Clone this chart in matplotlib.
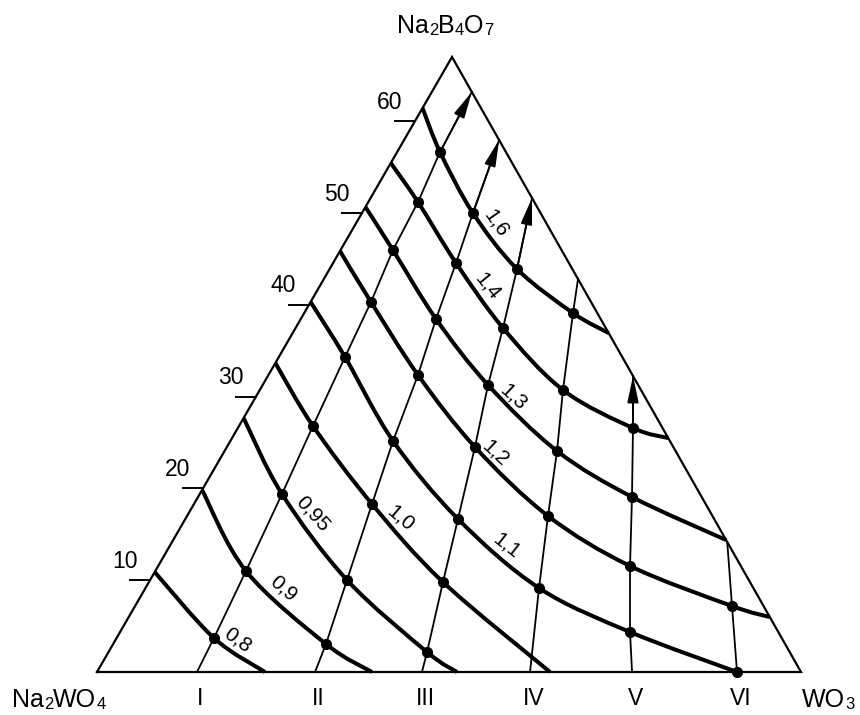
import matplotlib
matplotlib.use("Agg")
import matplotlib.pyplot as plt
import numpy as np
from matplotlib.path import Path
from matplotlib.patches import PathPatch, FancyArrowPatch

plt.rcParams['font.family'] = ['Liberation Sans', 'DejaVu Sans']

# Na2B4O7 (%) at the top corner of the drawn triangle (left scale)
B_TOP = 67.0
# shape of the triangle (top corner, base length = 1)
TOP_X = 355 / 704
TOP_Y = 615 / 704

nan = np.nan

# left scale
tick_vals = [10, 20, 30, 40, 50, 60]

# sections I..VI : start on the Na2WO4-WO3 side (WO3, %) and end on the right side (Na2B4O7, %)
sec_names = ['I', 'II', 'III', 'IV', 'V', 'VI']
sec_base_w = [14.20, 30.97, 46.16, 61.51, 76.00, 90.91]
sec_end_b = [63.19, 57.96, 51.64, 42.81, 32.25, 14.16]
sec_arrow = [True, True, True, False, True, False]

# isolines
iso_labels = ['0,8', '0,9', '0,95', '1,0', '1,1', '1,2', '1,3', '1,4', '1,6']
iso_start_b = [10.89, 19.83, 27.67, 33.66, 40.31, 45.86, 50.66, 55.45, 61.44]
iso_end_w = [23.86, 39.06, 51.14, 64.35, nan, 91.06, 78.54, 61.95, 44.88]
iso_end_b = [0.0, 0.0, 0.0, 0.0, nan, 5.99, 14.38, 25.49, 36.93]

# nodes: isoline (rows) x section (cols)
node_b = [
    [3.70, nan, nan, nan, nan, nan],
    [11.00, 3.05, nan, nan, nan, nan],
    [19.39, 10.02, 2.18, nan, nan, nan],
    [26.80, 18.30, 9.80, nan, nan, nan],
    [34.32, 25.17, 16.67, 9.15, 4.36, 0.0],
    [40.31, 32.36, 24.51, 17.00, 11.55, 7.19],
    [45.97, 38.46, 31.27, 24.08, 19.07, nan],
    [51.20, 44.56, 37.48, 30.72, 26.58, nan],
    [56.65, 50.00, 43.90, 39.11, nan, nan],
]
node_w = [
    [13.83, nan, nan, nan, nan, nan],
    [12.88, 30.23, nan, nan, nan, nan],
    [11.68, 27.97, 45.24, nan, nan, nan],
    [10.51, 25.29, 41.77, nan, nan, nan],
    [9.40, 23.11, 38.73, 55.90, 72.43, 90.91],
    [8.58, 21.24, 35.24, 51.27, 67.02, 84.79],
    [7.44, 19.21, 32.01, 47.22, 61.64, nan],
    [7.06, 17.46, 29.46, 43.07, 56.13, nan],
    [6.09, 15.77, 26.62, 38.18, nan, nan],
]

# where the isoline numbers stand
lab_w = [17.40, 19.53, 17.73, 30.56, 47.91, 38.58, 36.54, 23.89, 19.86]
lab_b = [3.49, 9.15, 17.21, 16.78, 13.73, 23.86, 29.96, 42.05, 48.92]
lab_rot = [-36, -41, -48, -40, -38, -43, -43, -51, -55]


def tern(w, b):
    w = np.asarray(w, dtype=float)
    h = np.asarray(b, dtype=float) / B_TOP
    return w / 100 + TOP_X * h, TOP_Y * h


def right_w(b):
    return 100 * (1 - b / B_TOP)


def smooth_path(xs, ys):
    # catmull-rom through the points, as bezier pieces
    P = np.column_stack([xs, ys])
    n = len(P)
    verts = [P[0]]
    codes = [Path.MOVETO]
    for i in range(n - 1):
        p0 = P[i - 1] if i > 0 else P[i]
        p1 = P[i]
        p2 = P[i + 1]
        p3 = P[i + 2] if i + 2 < n else P[i + 1]
        verts += [p1 + (p2 - p0) / 6, p2 - (p3 - p1) / 6, p2]
        codes += [Path.CURVE4] * 3
    return Path(verts, codes)


def formula(ax, x, y, parts, big, small):
    prev = ax.text(x, y, parts[0], fontsize=big, ha='left', va='baseline')
    for i, p in enumerate(parts[1:], 1):
        size = small if i % 2 == 1 else big
        prev = ax.annotate(p, xy=(1, 0), xycoords=prev, fontsize=size,
                           ha='left', va='bottom')


fig = plt.figure(figsize=(8.6, 7.15), dpi=100)
ax = fig.add_axes([0, 0, 1, 1])
ax.set_xlim(-97 / 704, 763 / 704)
ax.set_ylim((672 - 715) / 704, 672 / 704)
ax.axis('off')

nb = np.array(node_b)
nw = np.array(node_w)

# triangle
tx, ty = tern([0, 100, 0, 0], [0, 0, B_TOP, 0])
ax.plot(tx, ty, color='black', lw=1.6, solid_joinstyle='miter')

# left scale
for v in tick_vals:
    x, y = tern(0, v)
    ax.plot([x - 0.028, x], [y, y], color='black', lw=1.4)
    ax.text(x - 0.036, y + 0.027, str(v), fontsize=16.5, ha='center', va='center')

# sections
for j in range(len(sec_names)):
    mask = ~np.isnan(nb[:, j])
    bs = [0.0] + list(nb[mask, j]) + [sec_end_b[j]]
    ws = [sec_base_w[j]] + list(nw[mask, j]) + [right_w(sec_end_b[j])]
    x, y = tern(ws, bs)
    ax.plot(x, y, color='black', lw=1.3)
    if sec_arrow[j]:
        arr = FancyArrowPatch((x[-2], y[-2]), (x[-1], y[-1]),
                              arrowstyle='-|>,head_length=0.8,head_width=0.17',
                              mutation_scale=20, color='black', lw=1.3,
                              shrinkA=0, shrinkB=0)
        ax.add_patch(arr)
    bx, by = tern(sec_base_w[j], 0)
    ax.text(bx + 0.005, -0.047, sec_names[j], fontsize=16.5, ha='center', va='baseline')

# isolines
for k in range(len(iso_labels)):
    mask = ~np.isnan(nb[k])
    bs = [iso_start_b[k]] + list(nb[k][mask])
    ws = [0.0] + list(nw[k][mask])
    if not np.isnan(iso_end_b[k]):
        bs.append(iso_end_b[k])
        ws.append(iso_end_w[k])
    x, y = tern(ws, bs)
    ax.add_patch(PathPatch(smooth_path(x, y), fill=False, color='black',
                           lw=2.9, capstyle='butt'))
    lx, ly = tern(lab_w[k], lab_b[k])
    ax.text(lx, ly, iso_labels[k], fontsize=15, rotation=lab_rot[k],
            ha='center', va='center', rotation_mode='anchor')

# nodes
dx, dy = tern(nw[~np.isnan(nw)], nb[~np.isnan(nb)])
ax.plot(dx, dy, 'o', color='black', ms=7, zorder=5)

# corners
formula(ax, 300 / 704, 639 / 704, ['Na', '2', 'B', '4', 'O', '7'], 18, 12)
formula(ax, -85 / 704, -35 / 704, ['Na', '2', 'WO', '4'], 18, 12)
formula(ax, 705 / 704, -35 / 704, ['WO', '3'], 18, 12)

fig.savefig('out.png', dpi=100)
